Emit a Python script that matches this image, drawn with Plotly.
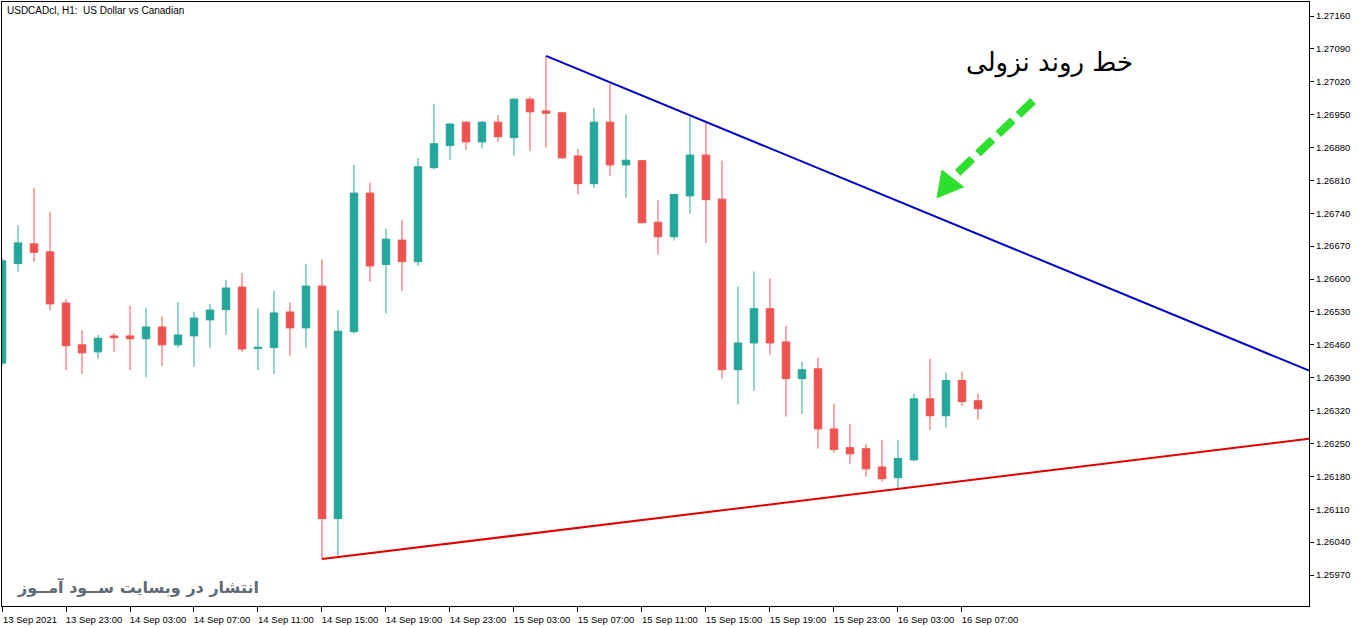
import plotly.graph_objects as go

# ---- data ----
bar_index = list(range(62))  # hourly bars from 13 Sep 19:00 to 16 Sep 08:00

opens = [1.26421, 1.26633, 1.26675, 1.26658, 1.26549, 1.26460, 1.26445, 1.26479, 1.26479, 1.26473,
         1.26498, 1.26460, 1.26479, 1.26513, 1.26535, 1.26583, 1.26452, 1.26454, 1.26530, 1.26496,
         1.26585, 1.26090, 1.26488, 1.26783, 1.26631, 1.26683, 1.26637, 1.26837, 1.26884, 1.26934,
         1.26892, 1.26934, 1.26901, 1.26983, 1.26958, 1.26954, 1.26862, 1.26803, 1.26934, 1.26843,
         1.26852, 1.26721, 1.26690, 1.26777, 1.26864, 1.26770, 1.26407, 1.26464, 1.26537, 1.26466,
         1.26388, 1.26409, 1.26281, 1.26241, 1.26239, 1.26200, 1.26177, 1.26215, 1.26345, 1.26309,
         1.26384, 1.26341]
highs = [1.26645, 1.26715, 1.26794, 1.26743, 1.26557, 1.26491, 1.26481, 1.26485, 1.26543, 1.26539,
         1.26520, 1.26551, 1.26530, 1.26547, 1.26598, 1.26613, 1.26537, 1.26575, 1.26550, 1.26632,
         1.26642, 1.26534, 1.26843, 1.26805, 1.26707, 1.26726, 1.26858, 1.26973, 1.26932, 1.26936,
         1.26936, 1.26949, 1.26985, 1.26988, 1.27075, 1.26956, 1.26877, 1.26964, 1.27017, 1.26950,
         1.26853, 1.26768, 1.26781, 1.26946, 1.26935, 1.26852, 1.26584, 1.26616, 1.26601, 1.26501,
         1.26424, 1.26433, 1.26335, 1.26292, 1.26249, 1.26258, 1.26258, 1.26356, 1.26430, 1.26401,
         1.26403, 1.26356]
lows = [1.26415, 1.26616, 1.26637, 1.26533, 1.26406, 1.26398, 1.26430, 1.26445, 1.26406, 1.26391,
        1.26415, 1.26454, 1.26413, 1.26454, 1.26481, 1.26445, 1.26406, 1.26398, 1.26437, 1.26454,
        1.26004, 1.26009, 1.26484, 1.26594, 1.26527, 1.26575, 1.26628, 1.26834, 1.26854, 1.26875,
        1.26878, 1.26892, 1.26863, 1.26873, 1.26880, 1.26856, 1.26780, 1.26794, 1.26820, 1.26773,
        1.26718, 1.26652, 1.26682, 1.26739, 1.26677, 1.26388, 1.26333, 1.26362, 1.26439, 1.26307,
        1.26313, 1.26239, 1.26230, 1.26207, 1.26179, 1.26169, 1.26154, 1.26213, 1.26279, 1.26284,
        1.26330, 1.26301]
closes = [1.26639, 1.26677, 1.26657, 1.26547, 1.26458, 1.26443, 1.26474, 1.26475, 1.26473, 1.26498,
          1.26460, 1.26481, 1.26517, 1.26534, 1.26581, 1.26451, 1.26455, 1.26528, 1.26496, 1.26585,
          1.26090, 1.26489, 1.26783, 1.26628, 1.26685, 1.26637, 1.26839, 1.26888, 1.26930, 1.26892,
          1.26934, 1.26903, 1.26983, 1.26956, 1.26953, 1.26858, 1.26803, 1.26934, 1.26843, 1.26853,
          1.26720, 1.26690, 1.26780, 1.26864, 1.26769, 1.26407, 1.26464, 1.26537, 1.26464, 1.26388,
          1.26407, 1.26281, 1.26237, 1.26228, 1.26196, 1.26175, 1.26218, 1.26345, 1.26309, 1.26384,
          1.26339, 1.26324]

# trend lines (anchor points: bar index, price)
down_trend_x = [34, 81.7]
down_trend_y = [1.27075, 1.26405]
up_trend_x = [20, 81.7]
up_trend_y = [1.26004, 1.26260]

# annotation arrow (bar index, price)
arrow_x = [64.44, 59.6]
arrow_y = [1.26979, 1.26822]
arrow_head_x = [58.44, 58.75, 60.10, 58.44]
arrow_head_y = [1.26773, 1.26832, 1.26796, 1.26773]

x_tick_vals = [0, 4, 8, 12, 16, 20, 24, 28, 32, 36, 40, 44, 48, 52, 56, 60]
x_tick_text = ["13 Sep 2021", "13 Sep 23:00", "14 Sep 03:00", "14 Sep 07:00", "14 Sep 11:00",
               "14 Sep 15:00", "14 Sep 19:00", "14 Sep 23:00", "15 Sep 03:00", "15 Sep 07:00",
               "15 Sep 11:00", "15 Sep 15:00", "15 Sep 19:00", "15 Sep 23:00", "16 Sep 03:00",
               "16 Sep 07:00"]
y_tick_vals = [1.25970, 1.26040, 1.26110, 1.26180, 1.26250, 1.26320, 1.26390, 1.26460, 1.26530,
               1.26600, 1.26670, 1.26740, 1.26810, 1.26880, 1.26950, 1.27020, 1.27090, 1.27160]
y_tick_text = [f"{v:.5f}" for v in y_tick_vals]

title_text = "USDCADcl, H1:&nbsp; US Dollar vs Canadian"
trend_label = "خط روند نزولی"
watermark = "انتشار در وبسایت ســود آمــوز"

UP = "#26a69a"
DOWN = "#ef5350"

fig = go.Figure()
fig.add_trace(go.Candlestick(
    x=bar_index, open=opens, high=highs, low=lows, close=closes,
    increasing=dict(line=dict(color=UP, width=1), fillcolor=UP),
    decreasing=dict(line=dict(color=DOWN, width=1), fillcolor=DOWN),
    whiskerwidth=0, showlegend=False, hoverinfo="skip"))

fig.add_trace(go.Scatter(x=down_trend_x, y=down_trend_y, mode="lines",
                         line=dict(color="#0000c8", width=2), showlegend=False, hoverinfo="skip"))
fig.add_trace(go.Scatter(x=up_trend_x, y=up_trend_y, mode="lines",
                         line=dict(color="#e00000", width=2), showlegend=False, hoverinfo="skip"))
fig.add_trace(go.Scatter(x=arrow_x, y=arrow_y, mode="lines",
                         line=dict(color="#2ee02e", width=8, dash="20px,8px"),
                         showlegend=False, hoverinfo="skip"))
fig.add_trace(go.Scatter(x=arrow_head_x, y=arrow_head_y, mode="lines", fill="toself",
                         fillcolor="#2ee02e", line=dict(color="#2ee02e", width=1),
                         showlegend=False, hoverinfo="skip"))

fig.add_annotation(xref="paper", yref="paper", x=0, y=1, xanchor="left", yanchor="top",
                   xshift=3, yshift=-1, text=title_text, showarrow=False,
                   font=dict(family="Liberation Sans", size=10, color="black"))
fig.add_annotation(x=65.5, y=1.27060, text=trend_label, showarrow=False,
                   font=dict(family="DejaVu Sans", size=26, color="black"))
fig.add_annotation(xref="paper", yref="paper", x=0, y=0, xanchor="left", yanchor="bottom",
                   xshift=13, yshift=7, text="<b>" + watermark + "</b>", showarrow=False,
                   font=dict(family="DejaVu Sans", size=16, color="#5f6a74"))

fig.update_layout(
    width=1362, height=628,
    margin=dict(l=2, r=53, t=2, b=22),
    paper_bgcolor="white", plot_bgcolor="white",
    showlegend=False,
    boxgap=0.33,
    xaxis=dict(range=[0, 81.69], rangeslider=dict(visible=False), showgrid=False, zeroline=False,
               tickmode="array", tickvals=x_tick_vals, ticktext=x_tick_text,
               ticks="outside", ticklen=5, tickcolor="black", ticklabelshift=28,
               tickfont=dict(family="Liberation Sans", size=9.5, color="black"),
               showline=True, linecolor="black", linewidth=1, mirror=True),
    yaxis=dict(range=[1.259040, 1.271898], side="right", showgrid=False, zeroline=False,
               tickmode="array", tickvals=y_tick_vals, ticktext=y_tick_text,
               ticks="outside", ticklen=4, tickcolor="black",
               tickfont=dict(family="Liberation Sans", size=9.5, color="black"),
               showline=True, linecolor="black", linewidth=1, mirror=True),
)

fig.write_html("out.html")
